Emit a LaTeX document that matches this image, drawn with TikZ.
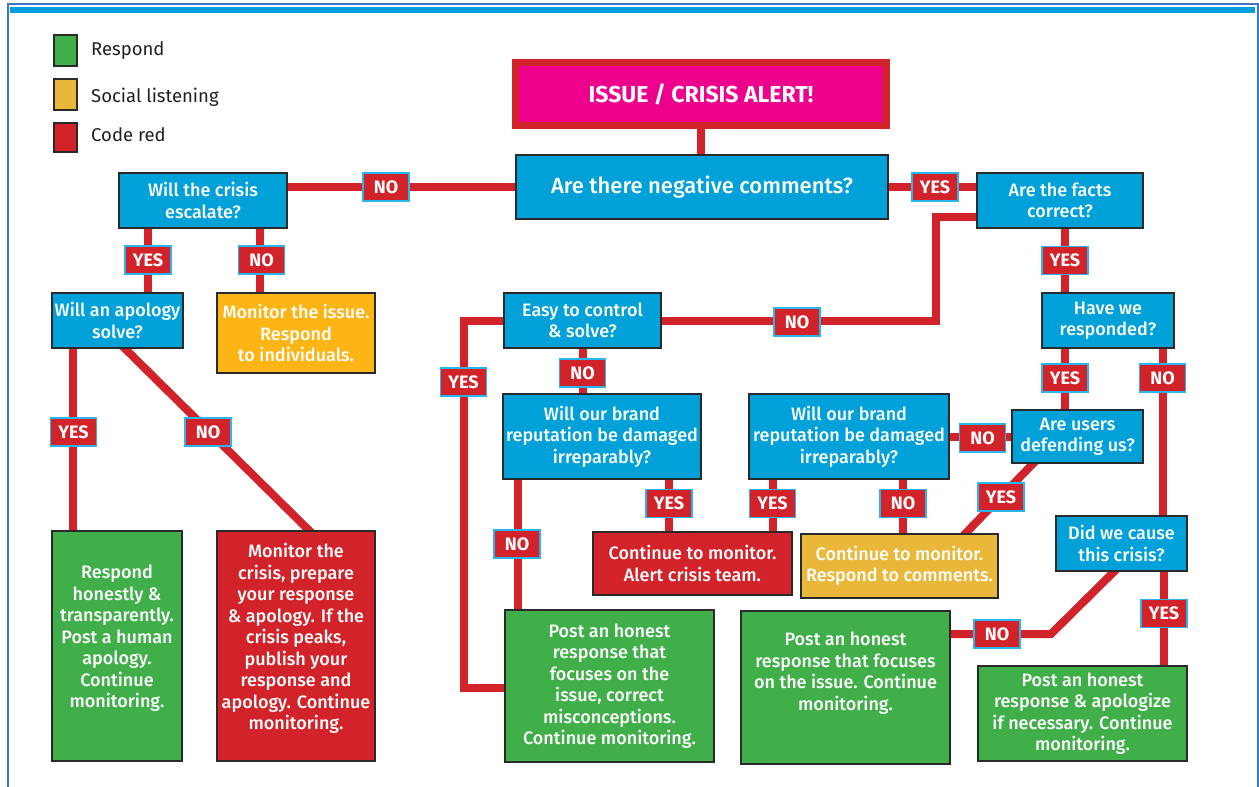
\documentclass[tikz,border=0pt]{standalone}
\usepackage{fontspec}
\setmainfont{Fira Sans}
\newfontfamily\medfont{Fira Sans Medium}
\definecolor{qblue}{HTML}{00A0D9}
\definecolor{cred}{HTML}{D2232A}
\definecolor{cgreen}{HTML}{40AE49}
\definecolor{cyel}{HTML}{E9B83A}
\definecolor{corange}{HTML}{FDB516}
\definecolor{cmag}{HTML}{EC008C}
\definecolor{lblb}{HTML}{29B6EE}
\definecolor{edgec}{HTML}{2A2A2A}
\definecolor{frameb}{HTML}{4472C4}
\definecolor{bandc}{HTML}{00A0DE}
\definecolor{legtext}{HTML}{231F20}
\pgfdeclarelayer{bg}
\pgfsetlayers{bg,main}
\begin{document}
\begin{tikzpicture}[x=1pt,y=-1pt,
 basebox/.style={draw=edgec, line width=1.3pt, inner sep=0pt, align=center, text=white, font=\medfont\fontsize{18}{21.5}\selectfont},
 qbox/.style={basebox, fill=qblue},
 gbox/.style={basebox, fill=cgreen},
 rbox/.style={basebox, fill=cred},
 ybox/.style={basebox, fill=cyel},
 obox/.style={basebox, fill=corange},
 btext/.style={align=center, text=white, inner sep=0pt, font=\medfont\fontsize{18}{21.5}\selectfont},
 lbl/.style={fill=cred, draw=lblb, line width=1.2pt, text=white, inner sep=0pt, minimum width=46pt, minimum height=28pt, font=\bfseries\fontsize{18}{20}\selectfont},
 conn/.style={draw=cred, line width=8pt, line join=miter, shorten <=-4pt, shorten >=-4pt},
 legsq/.style={draw=edgec, line width=1.3pt, minimum width=23pt, minimum height=31pt, inner sep=0pt},
 legtxt/.style={anchor=base west, inner sep=0pt, text=legtext, font=\fontsize{18.5}{20}\selectfont},
]
\useasboundingbox (0,0) rectangle (1259,787);

% legend
\node[legsq, fill=cgreen] (leg1) at (65.5,50.5) {};
\node[legsq, fill=cyel] (leg2) at (65.5,94.5) {};
\node[legsq, fill=cred, minimum height=29pt] (leg3) at (65.5,137.5) {};
\node[legtxt] (leg1t) at (91,55) {Respond};
\node[legtxt] (leg2t) at (91,102.5) {Social listening};
\node[legtxt] (leg3t) at (91,141) {Code red};

% title
\node[draw=cred, fill=cmag, line width=7pt, minimum width=371pt, minimum height=63pt, inner sep=0pt, text=white, font=\bfseries\fontsize{23}{25}\selectfont] (title) at (701,94) {ISSUE / CRISIS ALERT!};

% questions
\node[qbox, minimum width=372pt, minimum height=64pt, font=\medfont\fontsize{22}{26}\selectfont] (q1) at (702,187) {Are there negative comments?};
\node[qbox, minimum width=168pt, minimum height=55pt] (q2) at (203,200.5) {Will the crisis\\escalate?};
\node[qbox, minimum width=166pt, minimum height=55pt] (q3) at (1060,200.5) {Are the facts\\correct?};
\node[qbox, minimum width=131pt, minimum height=55pt] (q4) at (117.5,320.5) {Will an apology\\solve?};
\node[qbox, minimum width=157pt, minimum height=55pt] (q5) at (582.5,320.5) {Easy to control\\\& solve?};
\node[qbox, minimum width=132pt, minimum height=55pt] (q9) at (1108,320.5) {Have we\\responded?};
\node[qbox, minimum width=198pt, minimum height=85pt] (q6) at (602,436.5) {Will our brand\\reputation be damaged\\irreparably?};
\node[qbox, minimum width=200pt, minimum height=85pt] (q7) at (849,436.5) {Will our brand\\reputation be damaged\\irreparably?};
\node[qbox, minimum width=131pt, minimum height=53pt] (q8) at (1077.5,436.5) {Are users\\defending us?};
\node[qbox, minimum width=131pt, minimum height=55pt] (q10) at (1121.5,543.5) {Did we cause\\this crisis?};

% outcomes
\node[obox, minimum width=158pt, minimum height=80pt] (y1) at (296,333) {Monitor the issue.\\Respond\\to individuals.};
\node[gbox, minimum width=130pt, minimum height=230pt] (g1) at (117,646) {};
\node[btext] (g1t) at (117,638.5) {Respond\\honestly \&\\transparently.\\Post a human\\apology.\\Continue\\monitoring.};
\node[rbox, minimum width=158pt, minimum height=230pt] (r2) at (296,646) {};
\node[btext] (r2t) at (296,638.5) {Monitor the\\crisis, prepare\\your response\\\& apology. If the\\crisis peaks,\\publish your\\response and\\apology. Continue\\monitoring.};
\node[rbox, minimum width=199pt, minimum height=63pt] (r3) at (692.5,563.5) {Continue to monitor.\\Alert crisis team.};
\node[ybox, minimum width=197pt, minimum height=64pt] (y2) at (899.5,566) {Continue to monitor.\\Respond to comments.};
\node[gbox, minimum width=209pt, minimum height=152pt] (g3) at (609.5,686) {Post an honest\\response that\\focuses on the\\issue, correct\\misconceptions.\\Continue monitoring.};
\node[gbox, minimum width=209pt, minimum height=153pt] (g4) at (845.5,687.5) {};
\node[btext] (g4t) at (845.5,673) {Post an honest\\response that focuses\\on the issue. Continue\\monitoring.};
\node[gbox, minimum width=209pt, minimum height=95pt] (g5) at (1082.5,713.5) {Post an honest\\response \& apologize\\if necessary. Continue\\monitoring.};

% corner points
\coordinate (c1) at (936,321);
\coordinate (c2) at (464,688);
\coordinate (c3) at (1051,634);

% frame and connectors (behind the boxes)
\begin{pgfonlayer}{bg}
\fill[white] (0,0) rectangle (1259,787);
\draw[frameb, line width=2pt] (8,787) -- (8,4) -- (1257.5,4) -- (1257.5,787);
\fill[bandc] (10,7) rectangle (1255,12.5);
\draw[conn] (title.south) -- (title.south |- q1.north);
\draw[conn] (q1.west) -- (q1.west -| q2.east);
\draw[conn] (q1.east) -- (q1.east -| q3.west);
\draw[conn] ([xshift=-55pt]q2.south) -- ([xshift=-55pt]q2.south |- q4.north);
\draw[conn] ([xshift=57pt]q2.south) -- ([xshift=57pt]q2.south |- y1.north);
\draw[conn] ([xshift=-44.5pt]q4.south) -- ([xshift=-44.5pt]q4.south |- g1.north);
\draw[conn] ([xshift=7.5pt]q4.south) -- ([xshift=13pt]r2.north);
\draw[conn] ([yshift=-16pt]q3.west) -| (c1) -- (c1 -| q5.east);
\draw[conn] ([xshift=5pt]q3.south) -- ([xshift=5pt]q3.south |- q9.north);
\draw[conn] (q5.south) -- (q5.south |- q6.north);
\draw[conn] (q5.west) -| (c2) -- (c2 -| g3.west);
\draw[conn] ([xshift=-84pt]q6.south) -- ([xshift=-84pt]q6.south |- g3.north);
\draw[conn] ([xshift=67pt]q6.south) -- ([xshift=67pt]q6.south |- r3.north);
\draw[conn] ([xshift=-76pt]q7.south) -- ([xshift=-76pt]q7.south |- r3.north);
\draw[conn] ([xshift=54pt]q7.south) -- ([xshift=54pt]q7.south |- y2.north);
\draw[conn] (q8.west) -- (q8.west -| q7.east);
\draw[conn] ([xshift=-44.5pt]q8.south) -- ([xshift=66pt]y2.north);
\draw[conn] ([xshift=-43pt]q9.south) -- ([xshift=-43pt]q9.south |- q8.north);
\draw[conn] ([xshift=54.5pt]q9.south) -- ([xshift=54.5pt]q9.south |- q10.north);
\draw[conn] ([xshift=42.5pt]q10.south) -- ([xshift=42.5pt]q10.south |- g5.north);
\draw[conn] ([xshift=-7.5pt]q10.south) -- (c3) -- (c3 -| g4.east);
\end{pgfonlayer}

% labels
\node[lbl] (l1) at (386,187) {NO};
\node[lbl] (l2) at (935,187) {YES};
\node[lbl] (l3) at (148,260) {YES};
\node[lbl] (l4) at (261.5,260) {NO};
\node[lbl] (l5) at (73.5,432) {YES};
\node[lbl] (l6) at (208,432) {NO};
\node[lbl] (l7) at (797,322) {NO};
\node[lbl] (l8) at (1065,260.5) {YES};
\node[lbl] (l9) at (463.5,382) {YES};
\node[lbl] (l10) at (582.5,373) {NO};
\node[lbl] (l11) at (517,544) {NO};
\node[lbl] (l12) at (669,503.5) {YES};
\node[lbl] (l13) at (772.5,503.5) {YES};
\node[lbl] (l14) at (903,503.5) {NO};
\node[lbl] (l15) at (982.5,438) {NO};
\node[lbl] (l16) at (1001,497) {YES};
\node[lbl] (l17) at (1065,378) {YES};
\node[lbl] (l18) at (1162.5,378) {NO};
\node[lbl] (l19) at (1164,613.5) {YES};
\node[lbl] (l20) at (997,634) {NO};
\end{tikzpicture}
\end{document}
